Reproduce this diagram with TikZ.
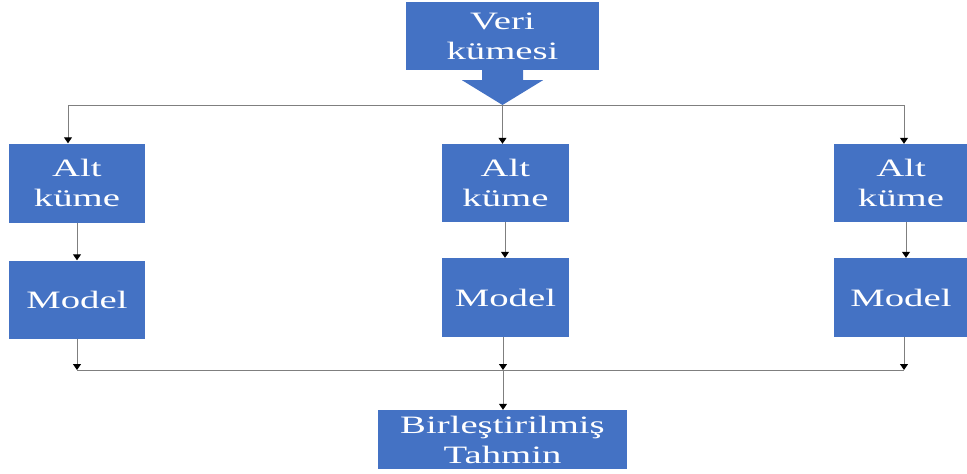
\documentclass[tikz,border=0pt]{standalone}
\usepackage{fontspec}
\usetikzlibrary{arrows.meta,calc}
\newfontfamily\widefont[FakeStretch=1.55]{Liberation Serif}
\definecolor{boxblue}{HTML}{4472C4}
\definecolor{linegray}{HTML}{7F7F7F}
\begin{document}
\begin{tikzpicture}[x=1pt,y=-1pt,
  block/.style={fill=boxblue,draw=none,inner sep=0pt,align=center,text=white,
    font=\widefont\fontsize{25}{30}\selectfont},
  link/.style={draw=linegray,line width=1pt},
  arr/.style={link,-{Triangle[width=8pt,length=6pt,black]}}]
\useasboundingbox (0,0) rectangle (967,474);

% source block with its down-arrow callout
\node[block,minimum width=193pt,minimum height=68pt] (veri) at (502.5,36) {Veri\\kümesi};
\coordinate (tip) at (502.5,105);
\fill[boxblue] ($(veri.south)+(-20.5,0)$) -- ($(veri.south)+(-20.5,10)$)
  -- ($(veri.south)+(-40.5,10)$) -- (tip) -- ($(veri.south)+(40.5,10)$)
  -- ($(veri.south)+(20.5,10)$) -- ($(veri.south)+(20.5,0)$) -- cycle;

% subsets
\node[block,minimum width=136pt,minimum height=79pt] (alt1) at (77,183) {Alt\\küme};
\node[block,minimum width=127pt,minimum height=78pt] (alt2) at (505.5,183) {Alt\\küme};
\node[block,minimum width=134pt,minimum height=78pt] (alt3) at (901,183) {Alt\\küme};

% models
\node[block,minimum width=136pt,minimum height=78pt] (model1) at (77,299.5) {Model};
\node[block,minimum width=127pt,minimum height=79pt] (model2) at (505.5,297.5) {Model};
\node[block,minimum width=134pt,minimum height=79pt] (model3) at (901,297.5) {Model};

% combined prediction
\node[block,minimum width=249pt,minimum height=59pt] (birl) at (502.5,439.5) {Birleştirilmiş\\Tahmin};

% split bus
\coordinate (sl) at (68,105);
\coordinate (sr) at (904,105);
\draw[link] (sl) -- (sr);
\draw[arr] (sl) -- (sl |- alt1.north);
\draw[arr] (tip) -- (tip |- alt2.north);
\draw[arr] (sr) -- (sr |- alt3.north);

% subset to model
\draw[arr] (alt1.south) -- (model1.north);
\draw[arr] ($(alt2.south)+(-0.5,0)$) -- ($(model2.north)+(-0.5,0)$);
\draw[arr] ($(alt3.south)+(5,0)$) -- ($(model3.north)+(5,0)$);

% merge bus
\coordinate (ml) at (77,370);
\coordinate (mr) at (904,370);
\coordinate (mc) at (503,370);
\draw[link] (ml) -- (mr);
\draw[arr] (model1.south) -- (model1.south |- ml);
\draw[arr] (model2.south -| mc) -- (mc);
\draw[arr] (model3.south -| mr) -- (mr);
\draw[arr] (mc) -- (mc |- birl.north);
\end{tikzpicture}
\end{document}
